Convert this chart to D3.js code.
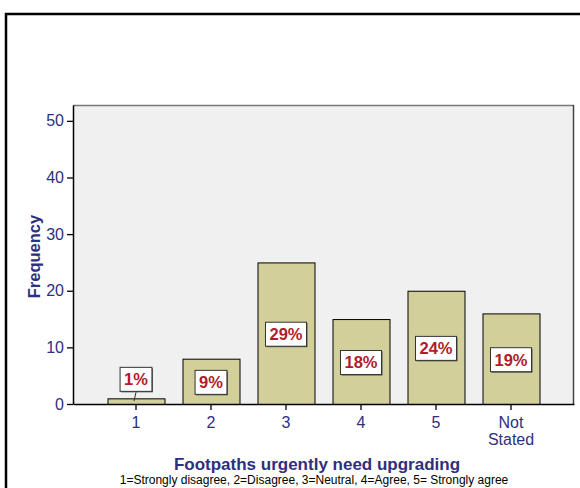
<!DOCTYPE html>
<html>
<head>
<meta charset="utf-8">
<script src="https://cdn.jsdelivr.net/npm/d3@7"></script>
<style>
  body { margin: 0; background: #fff; }
  text { font-family: Arial, "Liberation Sans", sans-serif; }
</style>
</head>
<body>
<div id="chart"></div>
<script>
// data
var categories = ['1', '2', '3', '4', '5', 'Not Stated'];
var frequencies = [1, 8, 25, 15, 20, 16];
var percentLabels = ['1%', '9%', '29%', '18%', '24%', '19%'];
var yTicks = [0, 10, 20, 30, 40, 50];

var width = 580, height = 488;
var plotLeft = 73, plotRight = 574, plotTop = 105, plotBottom = 404;
var navy = '#2e2f7e';

var svg = d3.select('#chart')
  .append('svg')
  .attr('width', width)
  .attr('height', height);

// outer frame (runs off the page)
svg.append('rect')
  .attr('x', 6).attr('y', 14)
  .attr('width', 600).attr('height', 500)
  .attr('fill', 'none')
  .attr('stroke', '#000')
  .attr('stroke-width', 2.5);

var x = d3.scaleBand()
  .domain(categories)
  .range([plotLeft, plotRight])
  .paddingInner(0.24)
  .paddingOuter(0.46);

var y = d3.scaleLinear()
  .domain([0, 52.8])
  .range([plotBottom, plotTop]);

// plot background
svg.append('rect')
  .attr('x', plotLeft).attr('y', plotTop)
  .attr('width', plotRight - plotLeft).attr('height', plotBottom - plotTop)
  .attr('fill', '#f0f0f0');
svg.append('line')
  .attr('x1', plotLeft).attr('x2', plotRight).attr('y1', plotTop + 0.5).attr('y2', plotTop + 0.5)
  .attr('stroke', '#777').attr('stroke-width', 1.5);
svg.append('line')
  .attr('x1', plotRight - 0.5).attr('x2', plotRight - 0.5).attr('y1', plotTop).attr('y2', plotBottom)
  .attr('stroke', '#444').attr('stroke-width', 1.5);

// bars
svg.selectAll('rect.bar')
  .data(frequencies)
  .enter()
  .append('rect')
  .attr('class', 'bar')
  .attr('x', (d, i) => x(categories[i]) + 0.5)
  .attr('y', d => y(d) + 0.5)
  .attr('width', x.bandwidth())
  .attr('height', d => plotBottom - y(d))
  .attr('fill', '#d3cf9a')
  .attr('stroke', '#000')
  .attr('stroke-width', 1);

// axes
var yAxis = svg.append('g')
  .attr('transform', 'translate(' + plotLeft + ',0)')
  .call(d3.axisLeft(y).tickValues(yTicks).tickSize(6).tickSizeOuter(0).tickPadding(3));
var xAxis = svg.append('g')
  .attr('transform', 'translate(0,' + plotBottom + ')')
  .call(d3.axisBottom(x).tickSize(6).tickSizeOuter(0).tickFormat(''));

[yAxis, xAxis].forEach(function(a) {
  a.select('.domain').attr('stroke', '#000').attr('stroke-width', 1.5);
  a.selectAll('.tick line').attr('stroke', '#000').attr('stroke-width', 1.3);
});
yAxis.selectAll('.tick text')
  .attr('fill', navy)
  .style('font-size', '16px');

// x tick labels, wrapped on spaces
xAxis.selectAll('.tick')
  .append('text')
  .attr('fill', navy)
  .attr('text-anchor', 'middle')
  .style('font-size', '16px')
  .each(function(d) {
    var words = d.split(' ');
    var t = d3.select(this);
    words.forEach(function(w, j) {
      t.append('tspan').attr('x', 0).attr('y', 24 + j * 17).text(w);
    });
  });

// percent labels
var labels = svg.selectAll('g.lab')
  .data(frequencies)
  .enter()
  .append('g')
  .attr('class', 'lab')
  .attr('transform', function(d, i) {
    var cx = x(categories[i]) + x.bandwidth() / 2;
    var cy = i === 0 ? y(d) - 19 : (y(d) + plotBottom) / 2 + 1;
    return 'translate(' + cx + ',' + cy + ')';
  });

labels.each(function(d, i) {
  var g = d3.select(this);
  var txt = g.append('text')
    .attr('text-anchor', 'middle')
    .attr('dy', '0.36em')
    .attr('fill', '#b01c2a')
    .style('font-size', '16.5px')
    .style('font-weight', 'bold')
    .text(percentLabels[i]);
  var w = txt.node().getComputedTextLength() + 8;
  var h = 24;
  g.insert('rect', 'text')
    .attr('x', -w / 2 + 1).attr('y', -h / 2 + 1)
    .attr('width', w).attr('height', h)
    .attr('fill', '#555');
  g.insert('rect', 'text')
    .attr('x', -w / 2).attr('y', -h / 2)
    .attr('width', w).attr('height', h)
    .attr('fill', '#fff')
    .attr('stroke', '#333')
    .attr('stroke-width', 1);
  if (i === 0) {
    g.append('line')
      .attr('x1', 0).attr('y1', h / 2 + 1)
      .attr('x2', -2).attr('y2', 19 + (plotBottom - y(d)) / 2)
      .attr('stroke', '#333').attr('stroke-width', 1);
  }
});

// axis titles
svg.append('text')
  .attr('transform', 'translate(40,' + ((plotTop + plotBottom) / 2 + 2) + ') rotate(-90)')
  .attr('text-anchor', 'middle')
  .attr('fill', navy)
  .style('font-size', '16.5px')
  .style('font-weight', 'bold')
  .text('Frequency');

svg.append('text')
  .attr('x', 317).attr('y', 470)
  .attr('text-anchor', 'middle')
  .attr('fill', navy)
  .style('font-size', '17px')
  .style('font-weight', 'bold')
  .text('Footpaths urgently need upgrading');

svg.append('text')
  .attr('x', 314).attr('y', 484)
  .attr('text-anchor', 'middle')
  .attr('fill', '#000')
  .style('font-size', '12px')
  .text('1=Strongly disagree, 2=Disagree, 3=Neutral, 4=Agree, 5= Strongly agree');
</script>
</body>
</html>
